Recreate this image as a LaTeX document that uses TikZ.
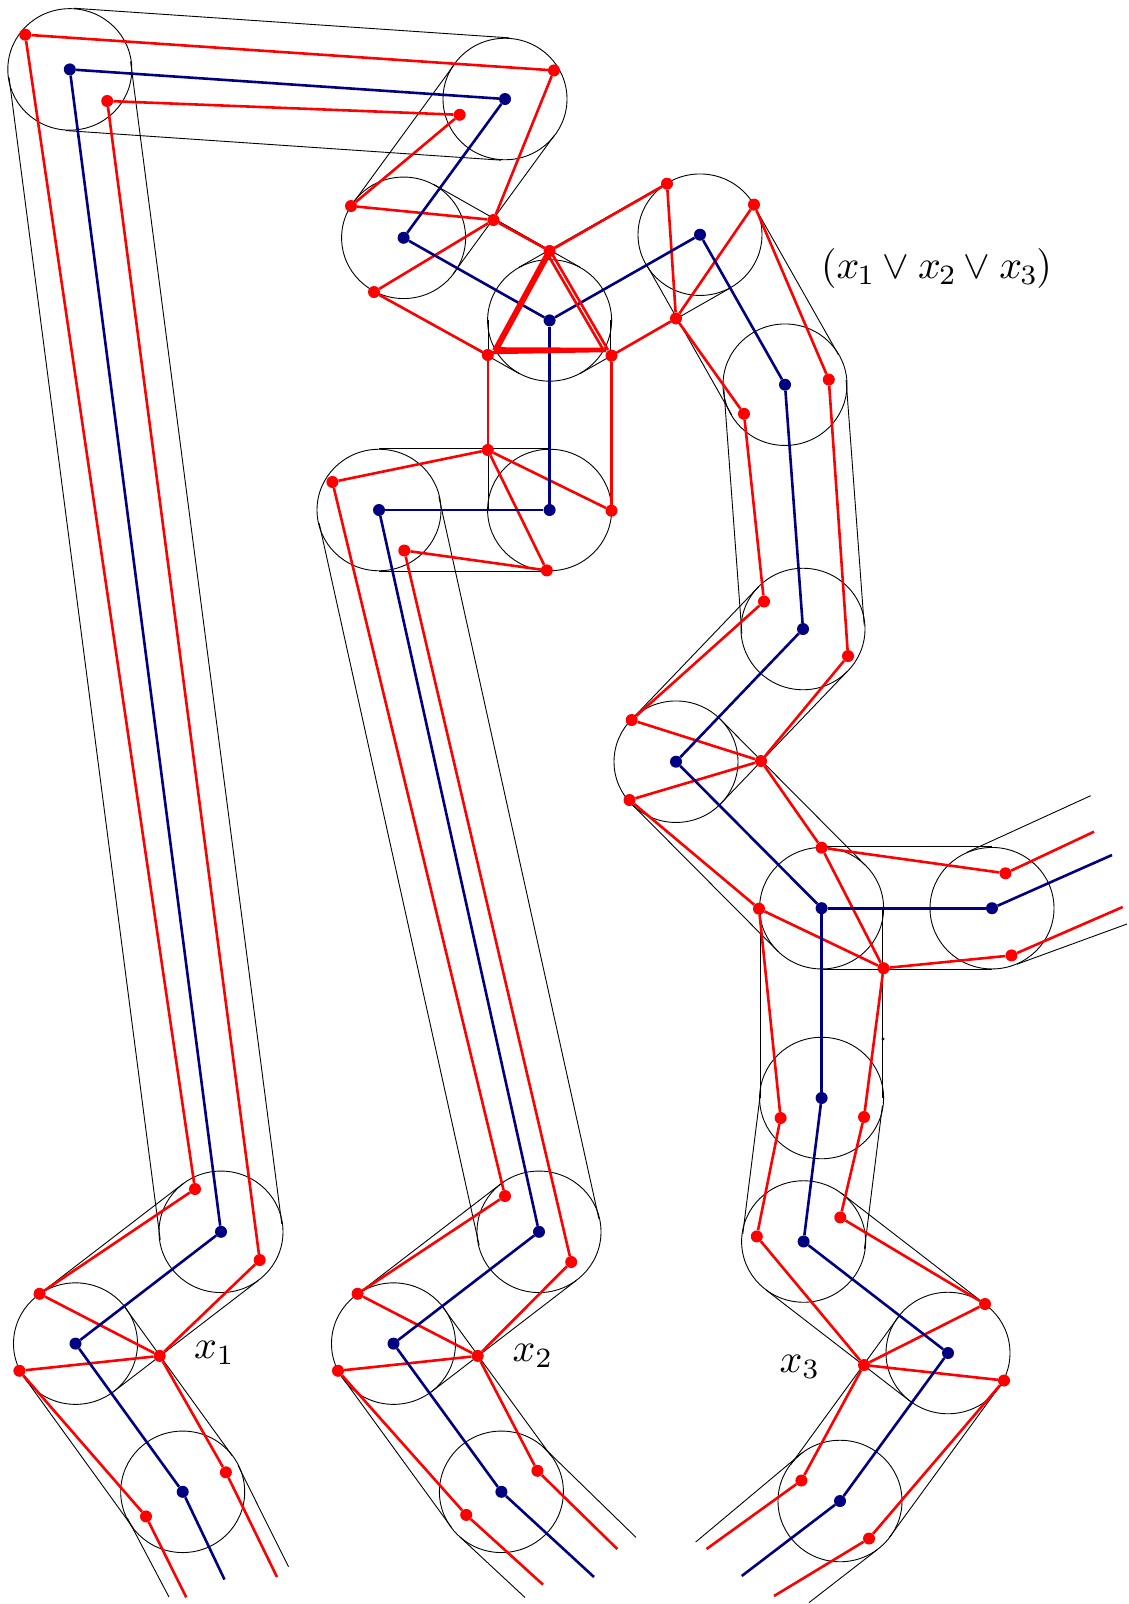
\documentclass[tikz,border=0pt]{standalone}
\usetikzlibrary{calc,backgrounds,shapes.geometric}
\definecolor{navyblue}{RGB}{0,0,128}
\tikzset{
  bluedot/.style={circle,fill=navyblue,inner sep=0pt,minimum size=12pt},
  reddot/.style={circle,fill=red,inner sep=0pt,minimum size=12pt},
  ring/.style={ellipse,draw=black,line width=0.9pt,inner sep=0pt,minimum width=124pt,minimum height=121.5pt},
  hull/.style={draw=black,line width=0.9pt},
  redline/.style={draw=red,line width=2.6pt},
  blueline/.style={draw=navyblue,line width=2.6pt},
  biglabel/.style={inner sep=0pt,scale=4},
}
\newcommand{\tubeh}[2]{%
  \draw[hull] ($(#1)!61.3pt!90:(#2)$) -- ($(#2)!61.3pt!-90:(#1)$);
  \draw[hull] ($(#1)!61.3pt!-90:(#2)$) -- ($(#2)!61.3pt!90:(#1)$);}
\newcommand{\tailh}[4]{%
  \draw[hull] ($(#1)!61.3pt!90:(#2)$) -- (#3);
  \draw[hull] ($(#1)!61.3pt!-90:(#2)$) -- (#4);}
\begin{document}
\begin{tikzpicture}[x=1pt,y=-1pt]
\useasboundingbox (0,0) rectangle (1128,1604);
% blue vertices
\foreach \n/\x/\y in {
 A1/69.8/69.4, A2/505/99, A3/403.6/237.8, C/549.6/320.4, B1/700/234.7, B2/785/384.7,
 B3/803/629, B4/676/761.7, B5/821.6/908.2, B6/992/908.2, B7/821.6/1098, B8/803.6/1241.5,
 B9/948/1353, B10/840/1501, D1/549.6/510, D2/379/510,
 E1/221/1231.8, E2/75.5/1343.6, E3/182.7/1491.8,
 F1/539/1231.8, F2/393.5/1343.6, F3/501.4/1491.8}
 {\node[bluedot] (\n) at (\x,\y) {};}
% red vertices
\foreach \n/\x/\y in {
 r1/25.2/34.7, r2/554/70.4, r3/107.2/101, r4/459.7/114.8, r5/351/206, r6/493.5/220,
 r7/374/292, r8/549.6/251, r9/487.8/355, r10/611.5/355.6, r11/667/183.7, r12/754/204.6,
 r13/676/318.4, r14/744/413.8, r15/828.8/379.6, r16/764/601.5, r17/848/656, r18/631.7/720,
 r19/761/761, r20/629.5/800, r21/487.8/450, r22/611.5/510.7, r23/332.4/482, r24/546.8/570.4,
 r25/404.3/550.5, r26/821.6/847.7, r27/1005.5/873.3, r28/759/908.7, r29/883.5/968.2,
 r30/1011.5/955.4, r31/780.6/1118, r32/864/1117, r33/756.8/1236.4, r34/840.3/1217.4,
 r35/985/1304, r36/864/1365, r37/1004/1380.5, r38/801.4/1480.5, r39/869/1538.5,
 a1/195/1189, a2/259.7/1260, a3/39.6/1293.8, a4/159.7/1355.9, a5/19.4/1370.8,
 a6/225.9/1472.3, a7/146/1516.4,
 b1/505/1196, b2/571.2/1262, b3/357.6/1293.8, b4/477.7/1355.9, b5/338/1370.8,
 b6/537.4/1470.8, b7/466.2/1514.9}
 {\node[reddot] (\n) at (\x,\y) {};}
% free ends
\foreach \n/\x/\y in {
 endE/224.5/1579.5, endEa/277/1577, endEb/186.3/1597.4, hullEa/288.5/1566.7, hullEb/169/1597,
 endF/594/1577, endFa/617.3/1549, endFb/543/1584.6, hullFa/636/1537.4, hullFb/525/1597.5,
 endG/741.7/1576, endGa/706.5/1549, endGb/774/1596, hullGa/809/1602.6, hullGb/695.7/1542,
 endH/1112/855, endHa/1094/831.7, endHb/1122.7/907, hullHa/1090.7/795.7, hullHb/1127/924,
 t1/548/254, t2/495/351, t3/606/350.5, t4/492/352.5, t5/547.5/254, t6/604/351, t7/551/252, t8/608/350,
 t9/496/349, t10/606/349.5}
 {\coordinate (\n) at (\x,\y);}
\begin{pgfonlayer}{background}
% circles
\foreach \n in {A1,A2,A3,C,B1,B2,B3,B4,B5,B6,B7,B8,B9,B10,D1,D2,E1,E2,E3,F1,F2,F3}
 {\node[ring] (ring\n) at (\n) {};}
% tubes
\tubeh{A1}{A2}\tubeh{A2}{A3}\tubeh{A3}{C}\tubeh{C}{B1}\tubeh{B1}{B2}\tubeh{B2}{B3}
\tubeh{B3}{B4}\tubeh{B4}{B5}\tubeh{B5}{B6}\tubeh{B5}{B7}\tubeh{B7}{B8}\tubeh{B8}{B9}
\tubeh{B9}{B10}\tubeh{C}{D1}\tubeh{D1}{D2}\tubeh{D2}{F1}\tubeh{F1}{F2}\tubeh{F2}{F3}
\tubeh{A1}{E1}\tubeh{E1}{E2}\tubeh{E2}{E3}
\tailh{E3}{endE}{hullEa}{hullEb}
\tailh{F3}{endF}{hullFa}{hullFb}
\tailh{B10}{endG}{hullGa}{hullGb}
\tailh{B6}{endH}{hullHa}{hullHb}
\node[circle,fill=black,inner sep=0pt,minimum size=3.4pt] (speck) at (883,1039) {};
\end{pgfonlayer}
% red connectors
\foreach \p/\q in {
 r1/r2,r2/r6,r3/r4,r4/r5,r5/r6,r6/r8,r6/r7,r7/r9,r8/r11,r11/r13,r12/r13,r13/r10,r12/r15,
 r13/r14,r14/r16,r15/r17,r16/r18,r17/r19,r18/r19,r19/r20,r19/r26,r20/r28,r26/r27,r26/r29,
 r28/r29,r29/r30,r28/r31,r29/r32,r31/r33,r32/r34,r33/r36,r34/r35,r35/r36,r36/r37,r36/r38,
 r37/r39,r9/r21,r10/r22,r21/r22,r21/r23,r21/r24,r24/r25,r23/b1,r25/b2,r1/a1,r3/a2,
 a1/a3,a2/a4,a3/a4,a4/a5,a4/a6,a5/a7,b1/b3,b2/b4,b3/b4,b4/b5,b4/b6,b5/b7,
 a6/endEa,a7/endEb,b6/endFa,b7/endFb,r38/endGa,r39/endGb,r27/endHa,r30/endHb}
 {\draw[redline] (\p) -- (\q);}
% blue connectors
\foreach \p/\q in {
 A1/A2,A2/A3,A3/C,C/B1,B1/B2,B2/B3,B3/B4,B4/B5,B5/B6,B5/B7,B7/B8,B8/B9,B9/B10,
 C/D1,D1/D2,D2/F1,F1/F2,F2/F3,A1/E1,E1/E2,E2/E3,
 E3/endE,F3/endF,B10/endG,B6/endH}
 {\draw[blueline] (\p) -- (\q);}
% thick triangle
\draw[draw=red,line width=6pt] (t1) -- (t2);
\draw[draw=red,line width=3.6pt] (t9) -- (t10);
\draw[draw=red,line width=3.4pt] (t4) -- (t3);
\draw[redline] (t5) -- (t6);
\draw[redline] (t7) -- (t8);
% labels
\node[biglabel] (clause) at (936.5,268) {$\scriptspace=0pt (x_{\mkern-1mu 1}\vee x_{\mkern-1mu 2}\vee x_{\mkern-1mu 3})$};
\node[biglabel] (lab1) at (214.5,1353) {$x_1$};
\node[biglabel] (lab2) at (533,1356) {$x_2$};
\node[biglabel] (lab3) at (800,1367) {$x_3$};
\end{tikzpicture}
\end{document}
